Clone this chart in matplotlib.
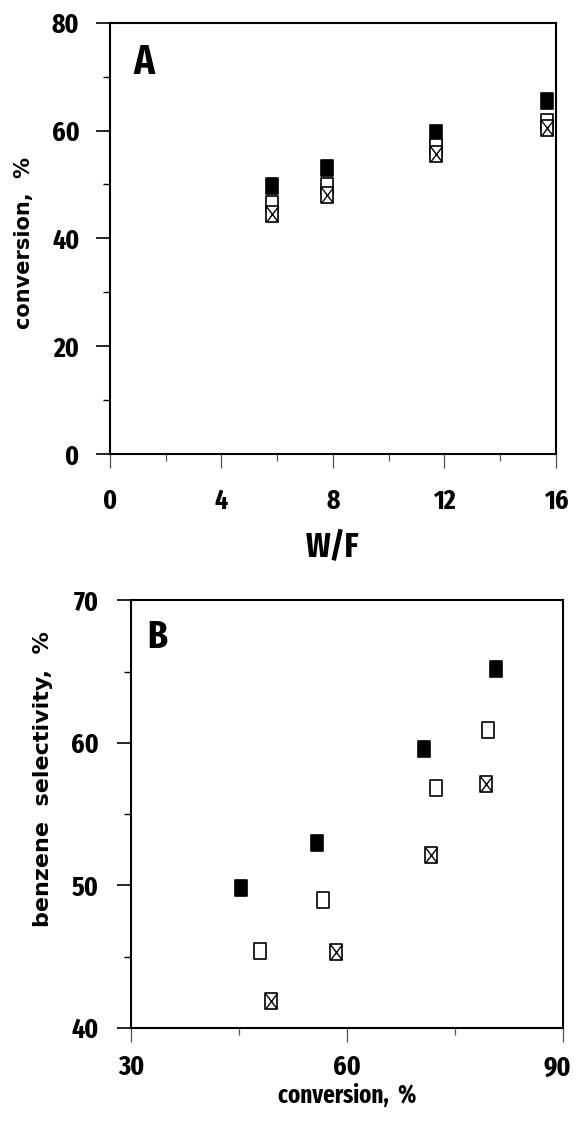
import matplotlib
matplotlib.use("Agg")
import matplotlib.pyplot as plt
import matplotlib.transforms as mtransforms
from matplotlib.path import Path
from matplotlib.ticker import MultipleLocator

# Panel A: conversion vs W/F
wf = [5.8, 7.77, 11.7, 15.67]
conv_filled = [49.7, 53.1, 59.6, 65.4]
conv_open = [46.3, 49.7, 57.0, 61.6]
conv_cross = [44.5, 48.1, 55.7, 60.5]

# Panel B: benzene selectivity vs conversion
b_conv_filled = [45.3, 55.8, 70.7, 80.7]
b_sel_filled = [49.8, 53.0, 59.6, 65.2]
b_conv_open = [47.9, 56.7, 72.4, 79.6]
b_sel_open = [45.4, 49.0, 56.8, 60.9]
b_conv_cross = [49.5, 58.5, 71.7, 79.3]
b_sel_cross = [41.9, 45.3, 52.1, 57.1]

a_xticks = [0, 4, 8, 12, 16]
a_yticks = [0, 20, 40, 60, 80]
b_xticks = [30, 60, 90]
b_yticks = [40, 50, 60, 70]

COND = ["Fira Sans Extra Condensed", "DejaVu Sans"]
WIDE = ["DejaVu Sans"]

# slightly tall rectangles, as on the old plotter output
W, H = 0.38, 0.5
RECT = Path([(-W, -H), (W, -H), (W, H), (-W, H), (-W, -H)],
            [Path.MOVETO, Path.LINETO, Path.LINETO, Path.LINETO, Path.CLOSEPOLY])
CROSS = Path([(-W, -H), (W, H), (-W, H), (W, -H)],
             [Path.MOVETO, Path.LINETO, Path.MOVETO, Path.LINETO])
MS = 11


def style_axes(ax, ypad, xpad):
    for s in ax.spines.values():
        s.set_linewidth(1.5)
    ax.tick_params(which="major", direction="out", length=10, width=1.2)
    ax.tick_params(which="minor", direction="out", length=5, width=1.0)
    ax.tick_params(axis="y", which="major", pad=ypad)
    ax.tick_params(axis="x", which="major", pad=xpad)
    ax.tick_params(axis="x", which="both", width=0.9, color="#555555")
    for lab in ax.get_xticklabels() + ax.get_yticklabels():
        lab.set_fontfamily(COND)
        lab.set_fontweight("bold")
        lab.set_fontsize(20)


def draw_series(ax, xf, yf, xo, yo, xc, yc):
    ax.plot(xf, yf, ls="none", marker=RECT, ms=MS, mfc="black", mec="black", mew=1.2, zorder=3)
    ax.plot(xo, yo, ls="none", marker=RECT, ms=MS, mfc="white", mec="black", mew=1.2, zorder=3)
    ax.plot(xc, yc, ls="none", marker=RECT, ms=MS, mfc="white", mec="black", mew=1.2, zorder=4)
    ax.plot(xc, yc, ls="none", marker=CROSS, ms=MS, mfc="none", mec="black", mew=1.0, zorder=5)


fig = plt.figure(figsize=(5.74, 11.36), dpi=100)

# --- A ---
ax1 = fig.add_axes([0.1916, 0.6001, 0.777, 0.380])
draw_series(ax1, wf, conv_filled, wf, conv_open, wf, conv_cross)
ax1.set_xlim(0, 16)
ax1.set_ylim(0, 80)
ax1.set_xticks(a_xticks)
ax1.set_yticks(a_yticks)
ax1.xaxis.set_minor_locator(MultipleLocator(2))
ax1.yaxis.set_minor_locator(MultipleLocator(10))
style_axes(ax1, ypad=12, xpad=14)
ax1.set_xlabel("W/F", family=COND, weight="bold", fontsize=25, va="center")
ax1.xaxis.set_label_coords(0.5, -0.217)
ax1.set_ylabel("conversion,  %", family=WIDE, weight="bold", fontsize=15, va="center")
ax1.yaxis.set_label_coords(-0.192, 0.49)
ax1.text(0.076, 0.907, "A", transform=ax1.transAxes, family=COND,
         weight="bold", fontsize=30, ha="center", va="center")

# --- B ---
ax2 = fig.add_axes([0.2286, 0.0951, 0.7514, 0.3765])
draw_series(ax2, b_conv_filled, b_sel_filled, b_conv_open, b_sel_open,
            b_conv_cross, b_sel_cross)
ax2.set_xlim(30, 90)
ax2.set_ylim(40, 70)
ax2.set_xticks(b_xticks)
ax2.set_yticks(b_yticks)
ax2.xaxis.set_minor_locator(MultipleLocator(15))
ax2.yaxis.set_minor_locator(MultipleLocator(5))
style_axes(ax2, ypad=13, xpad=9)
# nudge the last x label in so it stays inside the page
last = ax2.get_xticklabels()[-1]
last.set_transform(last.get_transform() +
                   mtransforms.ScaledTranslation(-4 / 72, 0, fig.dpi_scale_trans))
ax2.set_xlabel("conversion,  %", family=COND, weight="bold", fontsize=18, va="center")
ax2.xaxis.set_label_coords(0.5, -0.158)
ax2.set_ylabel("benzene  selectivity,  %", family=WIDE, weight="bold", fontsize=16, va="center")
ax2.yaxis.set_label_coords(-0.204, 0.583)
ax2.text(0.061, 0.913, "B", transform=ax2.transAxes, family=COND,
         weight="bold", fontsize=28, ha="center", va="center")

fig.savefig("out.png", dpi=100)
